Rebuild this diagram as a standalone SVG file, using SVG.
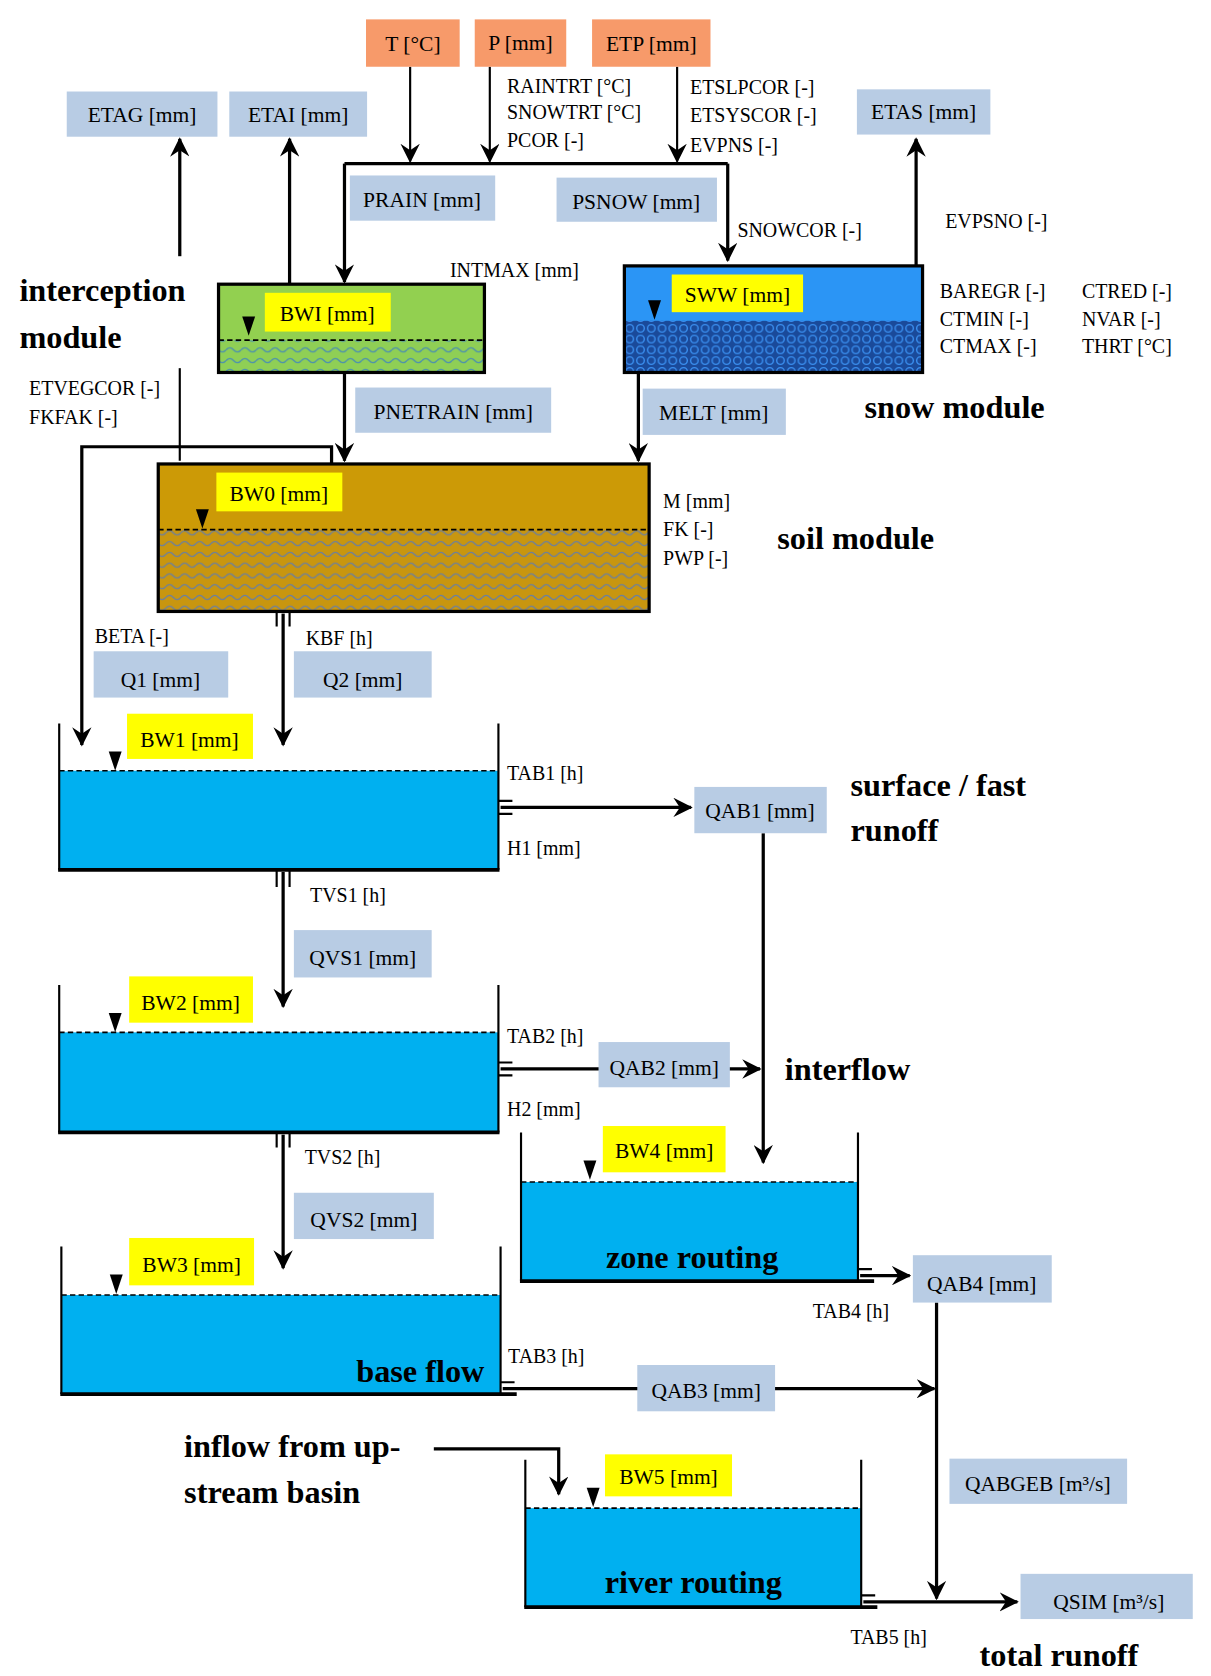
<svg xmlns="http://www.w3.org/2000/svg" width="1211" height="1676" viewBox="0 0 1211 1676">
<style>
.lbl{font-family:"Liberation Serif",serif;font-size:20px;fill:#000}
.par{font-family:"Liberation Serif",serif;font-size:18.5px;fill:#000}
.mod{font-family:"Liberation Serif",serif;font-size:30px;font-weight:bold;fill:#000}
.gb{fill:#b8cce4}
.yb{fill:#ffff00}
.ob{fill:#f79a6a}
.ln{stroke:#000;stroke-width:3;fill:none}
.th{stroke:#000;stroke-width:2;fill:none}
.wall{stroke:#000;stroke-width:2;fill:none}
.bot{stroke:#000;stroke-width:3.5}
.water{fill:#00b0f0}
.dash{stroke:#000;stroke-width:1.5;stroke-dasharray:5,3}
.tri{fill:#000}
</style>
<defs>
<marker id="ah" viewBox="0 0 12 12" refX="11" refY="6" markerWidth="7" markerHeight="7" orient="auto" markerUnits="userSpaceOnUse">
<path d="M0,0 L12,6 L0,12 L4,6 Z" fill="#000"/>
</marker>
<marker id="a" viewBox="0 0 12 12" refX="11" refY="6" markerWidth="18" markerHeight="18" orient="auto" markerUnits="userSpaceOnUse">
<path d="M0,0 L12,6 L0,12 L4,6 Z" fill="#000"/>
</marker>
<pattern id="pg" width="14" height="10" patternUnits="userSpaceOnUse">
<rect width="14" height="10" fill="#8fcf55"/>
<path d="M0,5 q3.5,-4 7,0 t7,0" stroke="#4a8fb0" stroke-width="1.2" fill="none"/>
</pattern>
<pattern id="pb" width="10" height="10" patternUnits="userSpaceOnUse">
<rect width="10" height="10" fill="#1a4a9a"/>
<circle cx="5" cy="5" r="3.5" fill="none" stroke="#3a8ff0" stroke-width="1.3"/>
</pattern>
<pattern id="ps" width="14" height="10" patternUnits="userSpaceOnUse">
<rect width="14" height="10" fill="#c8960f"/>
<path d="M0,5 q3.5,-4 7,0 t7,0" stroke="#6a7fa0" stroke-width="1.2" fill="none"/>
</pattern>
</defs>
<rect width="1211" height="1676" fill="#fff"/>
<g transform="scale(1.0765)">

<g id="connectors">
<path class="th" d="M381,62 V150" marker-end="url(#a)"/>
<path class="th" d="M455,62 V150" marker-end="url(#a)"/>
<path class="th" d="M629,62 V150" marker-end="url(#a)"/>
<path class="ln" d="M320,152 H676"/>
<path class="ln" d="M320,152 V262" marker-end="url(#a)"/>
<path class="ln" d="M676,152 V242" marker-end="url(#a)"/>
<path class="ln" d="M167,238 V129" marker-end="url(#a)"/>
<path class="ln" d="M269,264 V129" marker-end="url(#a)"/>
<path class="ln" d="M851,247 V129" marker-end="url(#a)"/>
<path class="th" d="M167,342 V428"/>
<path class="ln" d="M320,346 V428" marker-end="url(#a)"/>
<path class="ln" d="M593,346 V428" marker-end="url(#a)"/>
<path class="ln" d="M308,431 V415 H76 V692" marker-end="url(#a)"/>
<path class="ln" d="M263,570 V692" marker-end="url(#a)"/>
<path class="th" d="M257,568 V582 M269,568 V582"/>
<path class="ln" d="M465,750 H642" marker-end="url(#a)"/>
<path class="th" d="M463,744 H476 M463,756 H476"/>
<path class="ln" d="M709,774 V1080" marker-end="url(#a)"/>
<path class="ln" d="M263,810 V935" marker-end="url(#a)"/>
<path class="th" d="M257,808 V824 M269,808 V824"/>
<path class="ln" d="M465,993 H706" marker-end="url(#a)"/>
<path class="th" d="M463,987 H476 M463,999 H476"/>
<path class="ln" d="M263,1054 V1178" marker-end="url(#a)"/>
<path class="th" d="M257,1052 V1066 M269,1052 V1066"/>
<path class="ln" d="M799,1185 H845" marker-end="url(#a)"/>
<path class="th" d="M797,1179 H810 M797,1190 H810"/>
<path class="ln" d="M870,1210 V1485" marker-end="url(#a)"/>
<path class="ln" d="M467,1290 H868" marker-end="url(#a)"/>
<path class="th" d="M465,1284 H478 M465,1295 H478"/>
<path class="ln" d="M403,1346 H519 V1388" marker-end="url(#a)"/>
<path class="ln" d="M802,1488 H945" marker-end="url(#a)"/>
<path class="th" d="M800,1482 H813 M800,1493 H813"/>
</g>

<g id="T"><rect class="ob" x="340" y="18" width="87" height="44"/><text class="lbl" x="383.5" y="47" text-anchor="middle">T [°C]</text></g>
<g id="P"><rect class="ob" x="441" y="18" width="85" height="44"/><text class="lbl" x="483.5" y="46" text-anchor="middle">P [mm]</text></g>
<g id="ETP"><rect class="ob" x="550" y="18" width="110" height="44"/><text class="lbl" x="605" y="47" text-anchor="middle">ETP [mm]</text></g>

<g id="params-top">
<text class="par" x="471" y="86">RAINTRT [°C]</text>
<text class="par" x="471" y="111">SNOWTRT [°C]</text>
<text class="par" x="471" y="137">PCOR [-]</text>
<text class="par" x="641" y="87">ETSLPCOR [-]</text>
<text class="par" x="641" y="113">ETSYSCOR [-]</text>
<text class="par" x="641" y="141">EVPNS [-]</text>
</g>

<g id="ETAG"><rect class="gb" x="62" y="85" width="140" height="42"/><text class="lbl" x="132" y="113" text-anchor="middle">ETAG [mm]</text></g>
<g id="ETAI"><rect class="gb" x="213" y="85" width="128" height="42"/><text class="lbl" x="277" y="113" text-anchor="middle">ETAI [mm]</text></g>
<g id="ETAS"><rect class="gb" x="796" y="83" width="124" height="42"/><text class="lbl" x="858" y="111" text-anchor="middle">ETAS [mm]</text></g>
<g id="PRAIN"><rect class="gb" x="325" y="163" width="135" height="42"/><text class="lbl" x="392" y="192" text-anchor="middle">PRAIN [mm]</text></g>
<g id="PSNOW"><rect class="gb" x="517" y="165" width="149" height="41"/><text class="lbl" x="591" y="194" text-anchor="middle">PSNOW [mm]</text></g>
<text class="par" x="685" y="220">SNOWCOR [-]</text>
<text class="par" x="878" y="212">EVPSNO [-]</text>
<text class="par" x="418" y="257">INTMAX [mm]</text>

<g id="interception">
<text class="mod" x="18" y="280">interception</text>
<text class="mod" x="18" y="323">module</text>
<rect x="203" y="264" width="247" height="82" fill="#92d050"/>
<rect x="203" y="316" width="247" height="30" fill="url(#pg)"/>
<path class="dash" d="M203,316 H450"/>
<rect x="203" y="264" width="247" height="82" fill="none" stroke="#000" stroke-width="3"/>
<rect class="yb" x="246" y="272" width="117" height="36"/>
<text class="lbl" x="304" y="298" text-anchor="middle">BWI [mm]</text>
<path class="tri" d="M225,294 L237,294 L231,312 Z"/>
</g>

<g id="snow">
<rect x="580" y="247" width="277" height="99" fill="#2b95f5"/>
<rect x="580" y="298" width="277" height="48" fill="url(#pb)"/>
<rect x="580" y="247" width="277" height="99" fill="none" stroke="#000" stroke-width="3"/>
<rect class="yb" x="624" y="255" width="122" height="35"/>
<text class="lbl" x="685" y="281" text-anchor="middle">SWW [mm]</text>
<path class="tri" d="M602,279 L614,279 L608,297 Z"/>
<text class="par" x="873" y="277">BAREGR [-]</text>
<text class="par" x="873" y="303">CTMIN [-]</text>
<text class="par" x="873" y="328">CTMAX [-]</text>
<text class="par" x="1005" y="277">CTRED [-]</text>
<text class="par" x="1005" y="303">NVAR [-]</text>
<text class="par" x="1005" y="328">THRT [°C]</text>
<text class="mod" x="803" y="388">snow module</text>
</g>

<text class="par" x="27" y="367">ETVEGCOR [-]</text>
<text class="par" x="27" y="394">FKFAK [-]</text>
<g id="PNETRAIN"><rect class="gb" x="330" y="360" width="182" height="42"/><text class="lbl" x="421" y="389" text-anchor="middle">PNETRAIN [mm]</text></g>
<g id="MELT"><rect class="gb" x="597" y="361" width="133" height="43"/><text class="lbl" x="663" y="390" text-anchor="middle">MELT [mm]</text></g>

<g id="soil">
<rect x="147" y="431" width="456" height="137" fill="#cc9a06"/>
<rect x="147" y="492" width="456" height="76" fill="url(#ps)"/>
<path class="dash" d="M147,492 H603"/>
<rect x="147" y="431" width="456" height="137" fill="none" stroke="#000" stroke-width="3"/>
<rect class="yb" x="201" y="439" width="117" height="36"/>
<text class="lbl" x="259" y="465" text-anchor="middle">BW0 [mm]</text>
<path class="tri" d="M182,473 L194,473 L188,491 Z"/>
<text class="par" x="616" y="472">M [mm]</text>
<text class="par" x="616" y="498">FK [-]</text>
<text class="par" x="616" y="525">PWP [-]</text>
<text class="mod" x="722" y="510">soil module</text>
</g>

<text class="par" x="88" y="597">BETA [-]</text>
<text class="par" x="284" y="599">KBF [h]</text>
<g id="Q1"><rect class="gb" x="87" y="605" width="125" height="43"/><text class="lbl" x="149" y="638" text-anchor="middle">Q1  [mm]</text></g>
<g id="Q2"><rect class="gb" x="273" y="605" width="128" height="43"/><text class="lbl" x="337" y="638" text-anchor="middle">Q2 [mm]</text></g>

<g id="BW1">
<rect class="water" x="55" y="716" width="408" height="92"/>
<path class="dash" d="M55,716 H463"/>
<path class="wall" d="M55,672 V808 M463,672 V808"/>
<path class="bot" d="M54,808 H464"/>
<rect class="yb" x="118" y="663" width="117" height="42"/>
<text class="lbl" x="176" y="694" text-anchor="middle">BW1 [mm]</text>
<path class="tri" d="M101,698 L113,698 L107,716 Z"/>
<text class="par" x="471" y="725">TAB1 [h]</text>
<text class="par" x="471" y="794">H1 [mm]</text>
</g>
<g id="QAB1"><rect class="gb" x="645" y="731" width="123" height="43"/><text class="lbl" x="706" y="760" text-anchor="middle">QAB1 [mm]</text></g>
<text class="mod" x="790" y="739">surface / fast</text>
<text class="mod" x="790" y="781">runoff</text>
<text class="par" x="288" y="838">TVS1 [h]</text>
<g id="QVS1"><rect class="gb" x="273" y="864" width="128" height="44"/><text class="lbl" x="337" y="896" text-anchor="middle">QVS1 [mm]</text></g>

<g id="BW2">
<rect class="water" x="55" y="959" width="408" height="93"/>
<path class="dash" d="M55,959 H463"/>
<path class="wall" d="M55,915 V1052 M463,915 V1052"/>
<path class="bot" d="M54,1052 H464"/>
<rect class="yb" x="120" y="907" width="115" height="43"/>
<text class="lbl" x="177" y="938" text-anchor="middle">BW2 [mm]</text>
<path class="tri" d="M101,941 L113,941 L107,959 Z"/>
<text class="par" x="471" y="969">TAB2 [h]</text>
<text class="par" x="471" y="1037">H2 [mm]</text>
</g>
<g id="QAB2"><rect class="gb" x="556" y="968" width="122" height="42"/><text class="lbl" x="617" y="999" text-anchor="middle">QAB2 [mm]</text></g>
<text class="mod" x="729" y="1003">interflow</text>
<text class="par" x="283" y="1081">TVS2 [h]</text>
<g id="QVS2"><rect class="gb" x="273" y="1108" width="130" height="43"/><text class="lbl" x="338" y="1140" text-anchor="middle">QVS2  [mm]</text></g>

<g id="BW4">
<rect class="water" x="484" y="1098" width="313" height="92"/>
<path class="dash" d="M484,1098 H797"/>
<path class="wall" d="M484,1052 V1190 M797,1052 V1190"/>
<path class="bot" d="M483,1190 H812"/>
<rect class="yb" x="560" y="1046" width="114" height="43"/>
<text class="lbl" x="617" y="1076" text-anchor="middle">BW4 [mm]</text>
<path class="tri" d="M542,1078 L554,1078 L548,1096 Z"/>
<text class="mod" x="643" y="1178" text-anchor="middle">zone routing</text>
</g>
<g id="QAB4"><rect class="gb" x="848" y="1166" width="129" height="44"/><text class="lbl" x="912" y="1199" text-anchor="middle">QAB4 [mm]</text></g>
<text class="par" x="755" y="1224">TAB4 [h]</text>

<g id="BW3">
<rect class="water" x="57" y="1203" width="408" height="92"/>
<path class="dash" d="M57,1203 H465"/>
<path class="wall" d="M57,1158 V1295 M465,1158 V1295"/>
<path class="bot" d="M56,1295 H480"/>
<rect class="yb" x="120" y="1150" width="116" height="44"/>
<text class="lbl" x="178" y="1182" text-anchor="middle">BW3 [mm]</text>
<path class="tri" d="M102,1184 L114,1184 L108,1202 Z"/>
<text class="mod" x="450" y="1284" text-anchor="end">base flow</text>
<text class="par" x="472" y="1266">TAB3 [h]</text>
</g>
<g id="QAB3"><rect class="gb" x="592" y="1268" width="128" height="43"/><text class="lbl" x="656" y="1299" text-anchor="middle">QAB3 [mm]</text></g>
<g id="QABGEB"><rect class="gb" x="882" y="1355" width="165" height="42"/><text class="lbl" x="964" y="1385" text-anchor="middle">QABGEB [m³/s]</text></g>

<text class="mod" x="171" y="1353">inflow from up-</text>
<text class="mod" x="171" y="1396">stream basin</text>

<g id="BW5">
<rect class="water" x="488" y="1401" width="312" height="92"/>
<path class="dash" d="M488,1401 H800"/>
<path class="wall" d="M488,1356 V1493 M800,1356 V1493"/>
<path class="bot" d="M487,1493 H815"/>
<rect class="yb" x="562" y="1351" width="118" height="39"/>
<text class="lbl" x="621" y="1379" text-anchor="middle">BW5 [mm]</text>
<path class="tri" d="M545,1382 L557,1382 L551,1400 Z"/>
<text class="mod" x="644" y="1480" text-anchor="middle">river routing</text>
</g>
<g id="QSIM"><rect class="gb" x="948" y="1462" width="160" height="42"/><text class="lbl" x="1030" y="1495" text-anchor="middle">QSIM [m³/s]</text></g>
<text class="par" x="790" y="1527">TAB5 [h]</text>
<text class="mod" x="910" y="1548">total runoff</text>
</g>
</svg>
